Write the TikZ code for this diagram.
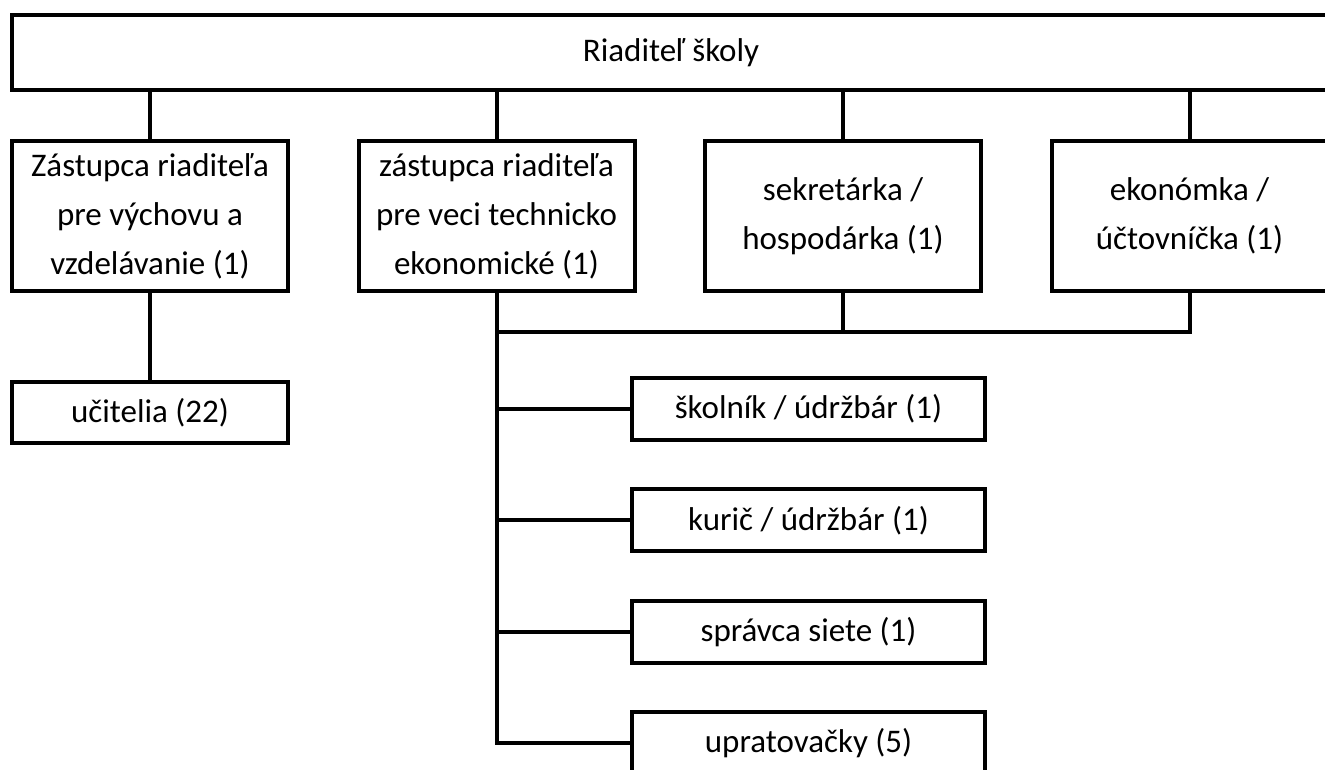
\documentclass[tikz,border=0pt]{standalone}
\usepackage{fontspec}
\setmainfont{Carlito}
\usepackage{tikz}
\usetikzlibrary{positioning}
\tikzstyle{orgbox}=[rectangle,draw=black,line width=4pt,outer sep=0pt,inner sep=2pt,align=center,minimum width=276pt,minimum height=150pt]
\tikzstyle{staffbox}=[orgbox,minimum width=353pt,minimum height=62pt]
\tikzstyle{link}=[line width=4pt]

\begin{document}
\begin{tikzpicture}[x=1pt,y=-1pt,font=\fontsize{33}{49}\selectfont,node distance=70.5pt]
        \useasboundingbox (0,0) rectangle (1325,770);
        \node[orgbox, minimum width=1318pt, minimum height=75pt] (riad) at (671,53) {Riaditeľ školy};

        \node[orgbox] (zvych) at (150,216) {Zástupca riaditeľa\\pre výchovu a\\vzdelávanie (1)};
        \node[orgbox, right =of zvych] (ztech) {zástupca riaditeľa\\pre veci technicko\\ekonomické (1)};
        \node[orgbox, right =of ztech] (sekr) {sekretárka /\\hospodárka (1)};
        \node[orgbox, right =of sekr] (ekon) {ekonómka /\\účtovníčka (1)};

        \node[orgbox, minimum height=61pt, below =91pt of zvych] (ucit) {učitelia (22)};

        \node[staffbox] (skol) at (808.5,409) {školník / údržbár (1)};
        \node[staffbox, below =49.3pt of skol] (kuric) {kurič / údržbár (1)};
        \node[staffbox, below =49.3pt of kuric] (sprav) {správca siete (1)};
        \node[staffbox, below =49.3pt of sprav] (upr) {upratovačky (5)};

        \coordinate (bus) at (496.5,332);

        \foreach \n in {zvych,ztech,sekr,ekon}
            \draw[link] (riad.south -| \n.north) -- (\n.north);
        \draw[link] (zvych.south) -- (ucit.north);

        \draw[link] (ztech.south) |- (upr.west);
        \foreach \n in {skol,kuric,sprav}
            \draw[link] (ztech.south |- \n.west) -- (\n.west);
        \draw[link] (bus) -| (ekon.south);
        \draw[link] (sekr.south) -- (sekr.south |- bus);
    \end{tikzpicture}
\end{document}
